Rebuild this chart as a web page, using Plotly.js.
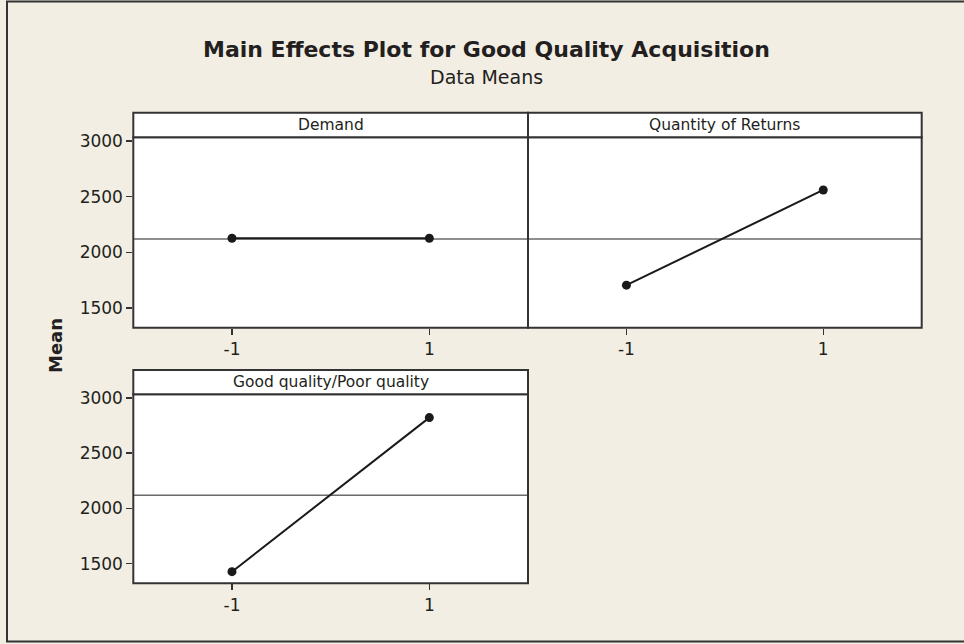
<!DOCTYPE html>
<html>
<head>
<meta charset="utf-8">
<script src="https://cdn.plot.ly/plotly-3.0.1.min.js"></script>
<style>html,body{margin:0;padding:0;background:#f2eee3;}#chart{width:964px;height:644px;}</style>
</head>
<body>
<div id="chart"></div>
<script>
// ---- data ----
var factors = ['Demand', 'Quantity of Returns', 'Good quality/Poor quality'];
var levels = [-1, 1];
var levelLabels = ['-1', '1'];
var demandMeans = [2126, 2126];
var returnsMeans = [1705, 2560];
var qualityMeans = [1428, 2822];
var grandMean = 2120;
var yTicks = [1500, 2000, 2500, 3000];

// ---- layout helpers ----
var W = 964, H = 644;
function px(x) { return x / W; }
function py(y) { return 1 - y / H; }

var panels = [
  {x0: 133.3, x1: 528, top: 137.3, bottom: 327.7, head: 112.7, means: demandMeans, ylabels: true},
  {x0: 528, x1: 921.7, top: 137.3, bottom: 327.7, head: 112.7, means: returnsMeans, ylabels: false},
  {x0: 133.3, x1: 528, top: 394.3, bottom: 583.3, head: 370, means: qualityMeans, ylabels: true}
];

var font = 'DejaVu Sans, Verdana, sans-serif';
var ink = '#231f20';
var frame = '#333333';

var traces = [];
var layout = {
  width: W, height: H,
  margin: {l: 0, r: 0, t: 0, b: 0},
  paper_bgcolor: '#f2eee3',
  plot_bgcolor: '#ffffff',
  showlegend: false,
  font: {family: font, color: ink, size: 16},
  shapes: [],
  annotations: []
};

panels.forEach(function (p, i) {
  var n = i === 0 ? '' : String(i + 1);
  traces.push({
    x: levels, y: p.means,
    xaxis: 'x' + n, yaxis: 'y' + n,
    type: 'scatter', mode: 'lines+markers',
    line: {color: '#1a1a1a', width: 2},
    marker: {color: '#1a1a1a', size: 9},
    hoverinfo: 'skip'
  });
  layout['xaxis' + n] = {
    domain: [px(p.x0), px(p.x1)],
    anchor: 'y' + n,
    range: [-2, 2],
    tickvals: levels, ticktext: levelLabels,
    ticks: 'outside', ticklen: 6, tickwidth: 1.5, tickcolor: frame,
    showline: false,
    showgrid: false, zeroline: false, fixedrange: true,
    tickfont: {size: 17, color: ink, family: font}
  };
  layout['yaxis' + n] = {
    domain: [py(p.bottom), py(p.top)],
    anchor: 'x' + n,
    range: [1323, 3033],
    tickvals: yTicks,
    ticks: p.ylabels ? 'outside' : '', ticklen: 6, tickwidth: 1.5, tickcolor: frame,
    showticklabels: p.ylabels,
    showline: false,
    showgrid: false, zeroline: false, fixedrange: true,
    tickfont: {size: 17, color: ink, family: font}
  };
  // grand mean reference line
  layout.shapes.push({
    type: 'line', xref: 'x' + n + ' domain', yref: 'y' + n,
    x0: 0, x1: 1, y0: grandMean, y1: grandMean,
    line: {color: '#6a6a6a', width: 1.5}, layer: 'below'
  });
  // panel frame
  layout.shapes.push({
    type: 'rect', xref: 'paper', yref: 'paper',
    x0: px(p.x0), x1: px(p.x1), y0: py(p.bottom), y1: py(p.top),
    fillcolor: 'rgba(0,0,0,0)', line: {color: frame, width: 2}
  });
  // header strip
  layout.shapes.push({
    type: 'rect', xref: 'paper', yref: 'paper',
    x0: px(p.x0), x1: px(p.x1), y0: py(p.top), y1: py(p.head),
    fillcolor: '#ffffff', line: {color: frame, width: 2}
  });
  layout.annotations.push({
    xref: 'paper', yref: 'paper',
    x: px((p.x0 + p.x1) / 2), y: py((p.top + p.head) / 2),
    xanchor: 'center', yanchor: 'middle', showarrow: false,
    text: factors[i], font: {size: 15.5, color: ink, family: font}
  });
});

// outer frame
layout.shapes.push({
  type: 'rect', xref: 'paper', yref: 'paper',
  x0: px(7), x1: px(966), y0: py(641.5), y1: py(1.5),
  line: {color: frame, width: 2}, fillcolor: 'rgba(0,0,0,0)'
});

// titles
layout.annotations.push({
  xref: 'paper', yref: 'paper', x: px(486), y: py(49),
  xanchor: 'center', yanchor: 'middle', showarrow: false,
  text: '<b>Main Effects Plot for Good Quality Acquisition</b>',
  font: {size: 22, color: ink, family: font}
});
layout.annotations.push({
  xref: 'paper', yref: 'paper', x: px(486), y: py(77),
  xanchor: 'center', yanchor: 'middle', showarrow: false,
  text: 'Data Means',
  font: {size: 19, color: ink, family: font}
});
layout.annotations.push({
  xref: 'paper', yref: 'paper', x: px(55), y: py(346),
  xanchor: 'center', yanchor: 'middle', showarrow: false, textangle: -90,
  text: '<b>Mean</b>',
  font: {size: 18, color: ink, family: font}
});

Plotly.newPlot('chart', traces, layout, {staticPlot: true, displayModeBar: false});
</script>
</body>
</html>
